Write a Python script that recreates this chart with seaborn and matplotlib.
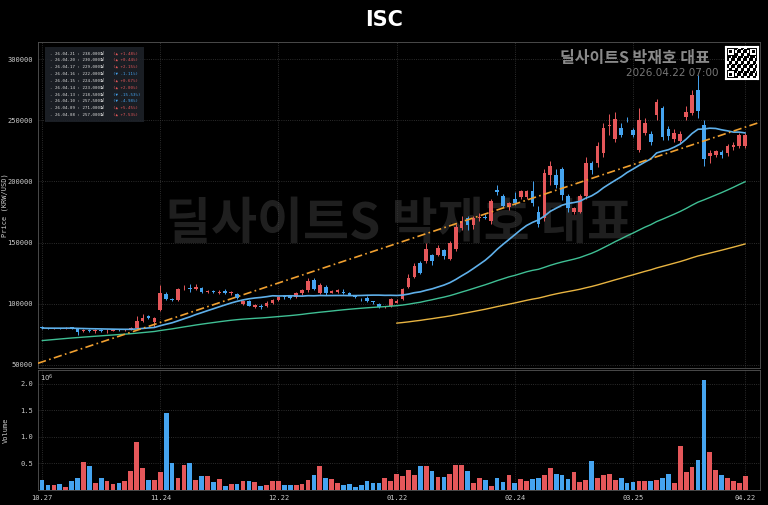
import numpy as np
import pandas as pd
import matplotlib
matplotlib.use("Agg")
import matplotlib.pyplot as plt
import seaborn as sns

tick_labels = ["10.27", "11.24", "12.22", "01.22", "02.24", "03.25", "04.22"]
tick_pos = [0, 20, 40, 60, 80, 100, 119]

prior_closes = [54000,54500,53800,55000,55500,56000,55800,56500,57000,57500,56800,57600,58500,59000,58200,59500,60000,61000,60500,62000,63000,62500,64000,65500,67000,66000,68000,69500,71000,70000,72500,74000,75500,77000,78000,79500,80500,80000,79500,80500,81000,80500,80000,79500,80000,80500,81000,80500,80000,79500,80000,80500,80000,79800,80200,80000,79500,80000,80500]

opens = [80500,80000,79500,80000,79800,80200,80000,77500,78500,77500,78500,77500,78000,78500,78300,78800,80000,86000,90000,85000,
         95000,108000,104000,103000,112500,113000,112000,113000,109500,110000,109000,110500,108500,108000,100000,102000,97500,98500,98000,101000,
         103000,106500,106000,105500,108500,111000,119500,109000,114000,109000,109500,110000,109000,106500,104500,105000,101500,100000,97500,98000,
         101000,104000,114000,122000,133000,135000,140000,140000,144000,137000,145000,162000,170000,164000,170000,171000,168000,193000,188000,179000,
         186000,187000,187000,192000,175000,170000,205000,205000,210000,188000,175000,175000,188000,215000,215000,223000,245000,235000,244000,251500,
         242000,226000,240000,239000,254000,260000,243000,235000,233000,253000,256000,275000,246000,221000,222000,224000,223000,228000,229000,229000][:120]
closes = [80000,79500,80000,79800,80200,80000,77000,78500,77500,78500,77500,78000,78500,78300,79000,80000,86000,88000,88500,88000,
          109000,104000,103000,112000,113000,112000,114000,110000,110500,109500,110000,109000,109500,105000,102000,98500,99000,97000,101000,103000,
          105500,105500,105000,108500,111000,119000,112000,115000,108500,110500,111000,109000,107500,105500,104000,102000,101000,97000,97500,104000,
          102500,112000,121000,131000,125000,145000,135000,146000,139000,150000,163000,168000,164000,170000,171000,170000,184000,191000,180000,182000,
          182000,192000,192000,182000,165000,207000,213000,197000,189000,178000,178000,188000,215000,209000,229000,244000,246000,251000,238000,251000,
          238000,250000,248000,232000,265000,236000,237000,240000,239000,257000,271000,257500,218500,223000,224500,222000,229000,230000,238000,238000][:120]
highs = [81500,80500,80500,80500,80800,80800,80500,79500,79000,79000,79000,79000,79000,79000,79500,81000,90000,92000,91000,89000,
         115000,110000,105000,113000,115000,116000,116000,114000,111500,111000,111000,112000,110500,109000,103000,103000,100000,99500,102000,104000,
         106500,107500,107000,109500,112000,121000,121000,117000,115000,111500,112000,112000,110000,107000,105000,106000,102000,100500,98000,105000,
         103500,113000,124000,133000,135000,150000,141000,148000,145000,151000,165000,172000,172000,172000,174000,173000,186000,197000,190000,183000,
         191000,193000,193000,200000,180000,210000,217000,210000,212000,190000,179000,190000,220000,217000,232000,248000,255000,257000,248000,253000,
         244000,260000,252000,241000,267000,262000,245000,243000,241000,262000,275000,287000,250000,226000,226000,226000,231000,232000,240000,240000][:120]
lows = [79500,79000,79000,79300,79500,79500,74500,77000,77000,76500,77000,76500,77500,77800,78000,78500,79500,85000,87500,81000,
        94000,103000,102000,102000,111000,110000,111000,109000,108500,108500,108000,108000,107500,104000,99000,98000,96500,96000,97000,100000,
        102000,104000,104000,105000,107500,110000,111000,108000,107000,108500,109000,108000,107000,104500,102000,101500,100000,96500,96500,97500,
        100500,103000,113000,121000,124000,133000,132000,139000,137000,136000,143000,160000,160000,161000,168000,169000,165000,189000,179000,177000,
        181000,186000,186000,180000,163000,168000,197000,195000,185000,175000,173000,174000,186000,206000,212000,220000,238000,232000,236000,249000,
        236000,224000,238000,230000,250000,234000,234000,232000,231000,250000,254000,252000,213000,215000,220000,219000,221000,226000,227000,227000][:120]

volumes = [0.18,0.09,0.09,0.12,0.06,0.17,0.23,0.52,0.45,0.14,0.22,0.17,0.12,0.14,0.17,0.36,0.90,0.41,0.18,0.18,
           0.34,1.45,0.50,0.23,0.47,0.51,0.18,0.26,0.26,0.15,0.20,0.08,0.11,0.12,0.17,0.17,0.15,0.08,0.09,0.17,
           0.17,0.10,0.09,0.10,0.12,0.18,0.28,0.45,0.23,0.20,0.14,0.10,0.11,0.06,0.09,0.17,0.14,0.14,0.22,0.17,
           0.31,0.26,0.37,0.29,0.45,0.45,0.36,0.25,0.25,0.31,0.47,0.47,0.35,0.14,0.22,0.18,0.08,0.23,0.15,0.29,
           0.14,0.20,0.17,0.20,0.23,0.29,0.41,0.31,0.28,0.20,0.33,0.15,0.18,0.54,0.22,0.29,0.31,0.18,0.23,0.14,
           0.15,0.17,0.17,0.17,0.18,0.23,0.30,0.14,0.82,0.33,0.43,0.57,2.07,0.72,0.37,0.28,0.23,0.17,0.14,0.26]

trend_idx = [0, 119]
trend_vals = [52500, 244400]

legend_dates = ["26.04.21","26.04.20","26.04.17","26.04.16","26.04.15","26.04.14","26.04.13","26.04.10","26.04.09","26.04.08"]
legend_prices = ["238,000원","230,000원","229,000원","222,000원","224,500원","223,000원","218,500원","257,500원","271,000원","257,000원"]
legend_changes = ["+1.48%","+0.44%","+2.15%","-1.11%","+0.67%","+2.00%","-15.53%","-4.98%","+5.45%","+7.53%"]

RED = "#e5575a"; BLUE = "#45a4f0"
sns.set_theme(style="dark")
plt.rcParams['font.family'] = ['Noto Sans CJK KR', 'DejaVu Sans']
plt.rcParams['axes.unicode_minus'] = False
plt.rcParams['patch.linewidth'] = 0

n = len(closes)
x = np.arange(n)
allc = pd.Series(prior_closes + closes, dtype=float)
off = len(prior_closes)
ma20 = allc.rolling(20).mean().values[off:]
ma60 = allc.rolling(60).mean().values[off:]
ma120 = allc.rolling(120).mean().values[off:]
o = np.array(opens); c = np.array(closes)
up = c >= o
cols = np.where(up, RED, BLUE)

fig = plt.figure(figsize=(7.68, 5.05), dpi=100, facecolor="black")
ax = fig.add_axes([38/768, 1-368/505, 722/768, 326/505])
axv = fig.add_axes([38/768, 1-490/505, 722/768, 120/505], sharex=ax)
for a in (ax, axv):
    a.set_facecolor("black")
    for s in a.spines.values():
        s.set_color("#555555"); s.set_linewidth(0.6)
    a.grid(True, color="#3a3a3a", linestyle=":", linewidth=0.6)
    a.tick_params(colors="#cccccc", labelsize=5, length=2, width=0.5, pad=1.5)

ax.text(0.5, 0.44, "딜사이트S 박재호 대표", transform=ax.transAxes, ha="center", va="center",
        fontsize=36, fontweight="bold", color="#3a3a3a", alpha=0.55, zorder=0)

ax.vlines(x, lows, highs, colors=cols, linewidth=0.7, zorder=2)
body = np.where(np.abs(c - o) < 600, 600, c - o)
ax.bar(x, body, bottom=o, width=0.62, color=cols, edgecolor="none", linewidth=0, zorder=3)

sns.lineplot(x=x, y=ma20, ax=ax, color="#5fb0ea", linewidth=1.2, zorder=4)
sns.lineplot(x=x, y=ma60, ax=ax, color="#3fbf94", linewidth=1.0, zorder=4)
sns.lineplot(x=x, y=ma120, ax=ax, color="#e8b441", linewidth=1.0, zorder=4)

xl = (-0.7, 121.5)
slope = (trend_vals[1]-trend_vals[0])/(trend_idx[1]-trend_idx[0])
tx = np.array(xl)
ax.plot(tx, trend_vals[0] + slope*(tx - trend_idx[0]), color="#f0a030", linewidth=1.2,
        linestyle=(0, (5, 2, 1, 2)), zorder=4)

ax.set_xlim(*xl)
ax.set_ylim(47500, 314000)
ax.set_yticks([50000,100000,150000,200000,250000,300000])
ax.set_yticklabels(["50000","100000","150000","200000","250000","300000"], family="DejaVu Sans Mono")
ax.set_ylabel("Price (KRW/USD)", color="#cccccc", fontsize=5, family="DejaVu Sans Mono")
ax.yaxis.set_label_coords(-0.041, 0.5)
plt.setp(ax.get_xticklabels(), visible=False)

axv.bar(x, volumes, width=0.8, color=cols, edgecolor="none", linewidth=0)
axv.set_ylim(0, 2.26)
axv.set_yticks([0.5, 1.0, 1.5, 2.0])
axv.set_yticklabels(["0.5","1.0","1.5","2.0"], family="DejaVu Sans Mono")
axv.set_xticks(tick_pos)
axv.set_xticklabels(tick_labels, family="DejaVu Sans Mono")
axv.set_ylabel("Volume", color="#cccccc", fontsize=5, family="DejaVu Sans Mono")
axv.yaxis.set_label_coords(-0.041, 0.5)
axv.text(0.003, 0.93, r"$10^6$", transform=axv.transAxes, ha="left", va="center", color="#cccccc", fontsize=5)

fig.text(0.5, 1-20/505, "ISC", ha="center", va="center", color="white", fontsize=15, fontweight="heavy",
         family="DejaVu Sans")

# info box
ax.add_patch(plt.Rectangle((0.01, 0.755), 0.137, 0.23, transform=ax.transAxes,
                           facecolor="#1e2229", edgecolor="none", alpha=0.9, zorder=5))
for k in range(len(legend_dates)):
    yy = 0.965 - k*0.021
    ax.text(0.016, yy, f"- {legend_dates[k]} : {legend_prices[k]}", transform=ax.transAxes,
            fontsize=3.0, color="#dddddd", va="center", zorder=6,
            family=["DejaVu Sans Mono", "Noto Sans CJK KR"])
    neg = legend_changes[k].startswith("-")
    ax.text(0.104, yy, f"({'▼' if neg else '▲'} {legend_changes[k]})", transform=ax.transAxes,
            fontsize=3.0, color=BLUE if neg else RED, va="center", zorder=6, family="DejaVu Sans Mono")

fig.text(710/768, 1-58/505, "딜사이트S 박재호 대표", ha="right", va="center", color="#8a8a8a",
         fontsize=11.5, fontweight="bold")
fig.text(718/768, 1-73/505, "2026.04.22 07:00", ha="right", va="center", color="#777777", fontsize=7.5,
         family="DejaVu Sans")
qax = fig.add_axes([726/768, 1-80/505, 32/768, 34/505])
qr = (np.add.outer(np.arange(21)*7 % 5, np.arange(21)*3 % 4) % 3 == 0).astype(float)
qr[:6, :6] = 0; qr[1:5, 1:5] = 1; qr[2:4, 2:4] = 0
qr[:6, -6:] = 0; qr[1:5, -5:-1] = 1; qr[2:4, -4:-2] = 0
qr[-6:, :6] = 0; qr[-5:-1, 1:5] = 1; qr[-4:-2, 2:4] = 0
qax.imshow(qr, cmap="gray", interpolation="nearest")
qax.set_xticks([]); qax.set_yticks([])
for s in qax.spines.values():
    s.set_color("white"); s.set_linewidth(1.5)

fig.savefig("out.png", dpi=100, facecolor="black")
